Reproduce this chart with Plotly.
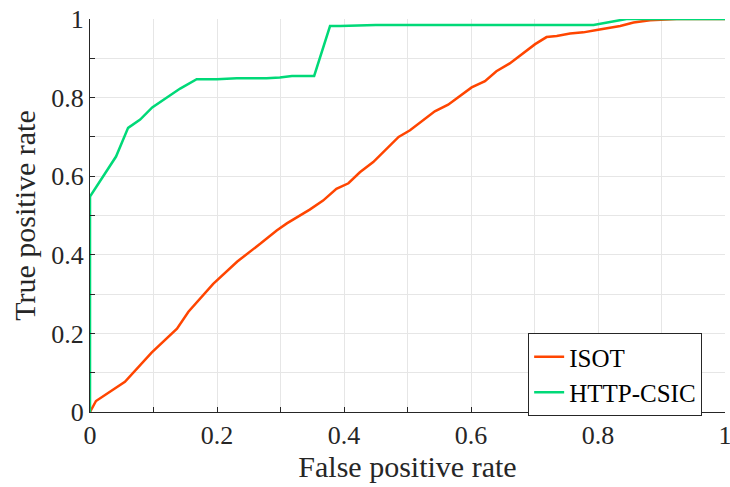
import plotly.graph_objects as go

# ROC curve for ISOT
isot_fpr = [0.0, 0.0094, 0.055, 0.097, 0.137, 0.155, 0.194, 0.232, 0.268, 0.294, 0.310,
            0.346, 0.367, 0.378, 0.388, 0.407, 0.425, 0.446, 0.486, 0.504, 0.543, 0.564,
            0.601, 0.622, 0.640, 0.661, 0.701, 0.719, 0.735, 0.756, 0.777, 0.798, 0.835,
            0.856, 0.882, 0.924, 1.0]
isot_tpr = [0.0, 0.028, 0.077, 0.151, 0.212, 0.255, 0.326, 0.383, 0.428, 0.462, 0.480,
            0.515, 0.538, 0.555, 0.568, 0.582, 0.610, 0.636, 0.700, 0.717, 0.765, 0.782,
            0.826, 0.842, 0.867, 0.887, 0.936, 0.954, 0.957, 0.963, 0.966, 0.972, 0.982,
            0.991, 0.997, 1.0, 1.0]

# ROC curve for HTTP-CSIC
csic_fpr = [0.0, 0.0, 0.041, 0.060, 0.079, 0.098, 0.142, 0.168, 0.200, 0.231, 0.278,
            0.299, 0.318, 0.353, 0.378, 0.394, 0.45, 0.793, 0.845, 1.0]
csic_tpr = [0.0, 0.548, 0.650, 0.723, 0.744, 0.775, 0.823, 0.847, 0.847, 0.849, 0.849,
            0.851, 0.855, 0.855, 0.982, 0.982, 0.985, 0.985, 1.0, 1.0]

tick_text = ["0", "0.2", "0.4", "0.6", "0.8", "1"]

RED = "rgb(255,69,0)"
GREEN = "rgb(0,217,120)"
FONT = "Liberation Serif"
INK = "#262626"

fig = go.Figure()
fig.add_trace(go.Scatter(x=isot_fpr, y=isot_tpr, mode="lines", name="ISOT",
                         line=dict(color=RED, width=2.5)))
fig.add_trace(go.Scatter(x=csic_fpr, y=csic_tpr, mode="lines", name="HTTP-CSIC",
                         line=dict(color=GREEN, width=2.5)))

# grid every 0.1, labels every 0.2
grid_vals = [i / 10 for i in range(11)]
grid_text = [tick_text[i // 2] if i % 2 == 0 else "" for i in range(11)]

axis_common = dict(
    range=[0, 1],
    automargin=False,
    showgrid=True, gridcolor="#e6e6e6", gridwidth=1,
    tickmode="array", tickvals=grid_vals, ticktext=grid_text,
    ticklabeloverflow="allow",
    showline=True, linecolor=INK, linewidth=1,
    ticks="inside", ticklen=5, tickcolor=INK,
    zeroline=False,
    tickfont=dict(family=FONT, size=26, color=INK),
)

fig.update_xaxes(**axis_common,
                 title=dict(text="False positive rate",
                            font=dict(family=FONT, size=30, color=INK), standoff=2))
fig.update_yaxes(**axis_common,
                 title=dict(text="True positive rate",
                            font=dict(family=FONT, size=30, color=INK), standoff=6))

fig.update_layout(
    width=730, height=487,
    margin=dict(l=90, r=5, t=19, b=75),
    plot_bgcolor="white", paper_bgcolor="white",
    font=dict(family=FONT, color=INK),
    legend=dict(x=0.69, y=0.201, xanchor="left", yanchor="top",
                bgcolor="white", bordercolor=INK, borderwidth=1,
                font=dict(family=FONT, size=25, color="#000000"),
                itemwidth=30, tracegroupgap=0),
    showlegend=True,
)

fig.write_html("out.html")
